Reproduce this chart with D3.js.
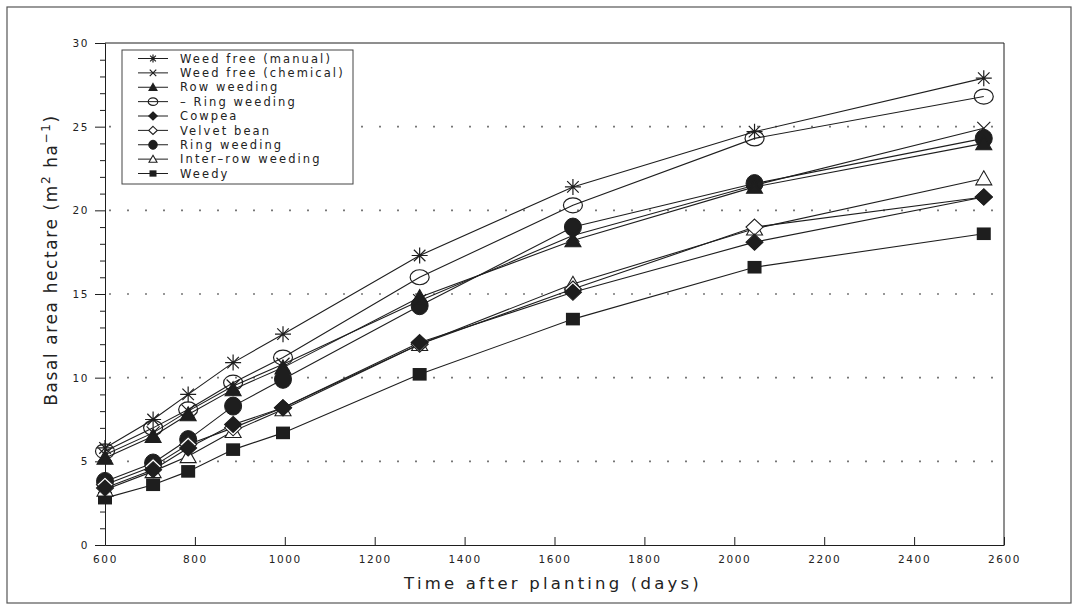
<!DOCTYPE html>
<html>
<head>
<meta charset="utf-8">
<script src="https://cdn.jsdelivr.net/npm/d3@7"></script>
<style>
  html, body { margin: 0; padding: 0; background: #fff; }
  svg { display: block; }
  text { font-family: "DejaVu Sans", sans-serif; fill: #222; }
</style>
</head>
<body>
<svg id="chart" width="1077" height="608"></svg>
<script>
// Sampling dates (days after planting)
const days = [600, 707, 785, 885, 996, 1300, 1641, 2045, 2555];

// Basal area per hectare (m2 ha-1) for each treatment
const weedFreeManual   = [5.8, 7.5, 9.0, 10.9, 12.6, 17.3, 21.4, 24.7, 27.9];
const weedFreeChemical = [5.4, 6.7, 8.0, 9.5, 10.8, 14.6, 18.5, 21.5, 24.9];
const rowWeeding       = [5.2, 6.5, 7.8, 9.3, 10.6, 14.8, 18.2, 21.4, 24.0];
const ringWeedingOpen  = [5.6, 7.0, 8.1, 9.7, 11.2, 16.0, 20.3, 24.3, 26.8];
const cowpea           = [3.4, 4.5, 5.8, 7.2, 8.2, 12.1, 15.1, 18.1, 20.8];
const velvetBean       = [3.6, 4.7, 6.0, 7.0, 8.2, 12.0, 15.3, 19.0, 20.8];
const ringWeeding      = [3.8, 4.9, 6.3, 8.3, 9.9, 14.3, 19.0, 21.6, 24.3];
const interRowWeeding  = [3.3, 4.4, 5.3, 6.8, 8.1, 12.0, 15.6, 18.9, 21.9];
const weedy            = [2.8, 3.6, 4.4, 5.7, 6.7, 10.2, 13.5, 16.6, 18.6];

const xTicks = [600, 800, 1000, 1200, 1400, 1600, 1800, 2000, 2200, 2400, 2600];
const yTicks = [0, 5, 10, 15, 20, 25, 30];
const gridValues = [5, 10, 15, 20, 25];

const series = [
  { name: "Weed free (manual)",   values: weedFreeManual,   marker: "star" },
  { name: "Weed free (chemical)", values: weedFreeChemical, marker: "times" },
  { name: "Row weeding",          values: rowWeeding,       marker: "triangleFilled" },
  { name: "\u2013 Ring weeding",  values: ringWeedingOpen,  marker: "circleOpen" },
  { name: "Cowpea",               values: cowpea,           marker: "diamondFilled" },
  { name: "Velvet bean",          values: velvetBean,       marker: "diamondOpen" },
  { name: "Ring weeding",         values: ringWeeding,      marker: "circleFilled" },
  { name: "Inter\u2013row weeding", values: interRowWeeding, marker: "triangleOpen" },
  { name: "Weedy",                values: weedy,           marker: "squareFilled" }
];

const svg = d3.select("#chart");
const ink = "#1e1e1e";

const plotLeft = 105, plotRight = 1004, plotTop = 43, plotBottom = 545;
const x = d3.scaleLinear().domain([600, 2600]).range([plotLeft, plotRight]);
const y = d3.scaleLinear().domain([0, 30]).range([plotBottom, plotTop]);

// Outer figure frame
svg.append("rect")
  .attr("x", 7).attr("y", 7).attr("width", 1064).attr("height", 596)
  .attr("fill", "none").attr("stroke", "#555").attr("stroke-width", 1.2);

// Plot frame (top and right edges)
svg.append("path")
  .attr("d", `M${plotLeft},${plotTop}H${plotRight}V${plotBottom}`)
  .attr("fill", "none").attr("stroke", ink).attr("stroke-width", 1);

// Dotted reference lines
svg.append("g").selectAll("line").data(gridValues).join("line")
  .attr("x1", plotLeft + 4).attr("x2", plotRight - 2)
  .attr("y1", d => y(d)).attr("y2", d => y(d))
  .attr("stroke", "#777").attr("stroke-width", 1.6)
  .attr("stroke-dasharray", "2,16");

// Y axis: major ticks with labels, minor ticks every unit
svg.append("g").attr("transform", `translate(${plotLeft},0)`)
  .call(d3.axisLeft(y).tickValues(yTicks).tickSize(10).tickPadding(6).tickFormat(d3.format("d")));
svg.append("g").attr("transform", `translate(${plotLeft},0)`)
  .call(d3.axisLeft(y).tickValues(d3.range(0, 31).filter(v => v % 5 !== 0)).tickSize(5).tickFormat(""))
  .call(g => g.select(".domain").remove());

// X axis: ticks point into the plot, labels below
svg.append("g").attr("transform", `translate(0,${plotBottom})`)
  .call(d3.axisBottom(x).tickValues(xTicks).tickSizeInner(-8).tickSizeOuter(0).tickPadding(11).tickFormat(d3.format("d")));

svg.selectAll(".domain, .tick line").attr("stroke", ink).attr("stroke-width", 1);
svg.selectAll(".tick text").style("font-size", "10.5px").style("letter-spacing", "1.6px").attr("fill", "#222");

// Axis titles
svg.append("text")
  .attr("x", 553).attr("y", 589)
  .attr("text-anchor", "middle")
  .style("font-size", "16.5px").style("letter-spacing", "3.2px")
  .text("Time after planting (days)");

const yTitle = svg.append("text")
  .attr("transform", "translate(57,260) rotate(-90)")
  .attr("text-anchor", "middle")
  .style("font-size", "17px").style("letter-spacing", "1.6px");
yTitle.append("tspan").text("Basal area hectare (m");
yTitle.append("tspan").attr("dy", "-7").style("font-size", "12px").text("2");
yTitle.append("tspan").attr("dy", "7").text(" ha");
yTitle.append("tspan").attr("dy", "-7").style("font-size", "12px").text("\u22121");
yTitle.append("tspan").attr("dy", "7").text(")");

// Marker drawing; s scales the marker (1 in the plot, smaller in the legend)
function drawMarker(g, type, s) {
  switch (type) {
    case "star": {
      const a = 8 * s, b = a * 0.72;
      g.append("path")
        .attr("d", `M${-a},0H${a}M0,${-a}V${a}M${-b},${-b}L${b},${b}M${-b},${b}L${b},${-b}`)
        .attr("stroke", ink).attr("stroke-width", 1.2).attr("fill", "none");
      break;
    }
    case "times": {
      const b = 6.5 * s;
      g.append("path")
        .attr("d", `M${-b},${-b}L${b},${b}M${-b},${b}L${b},${-b}`)
        .attr("stroke", ink).attr("stroke-width", 1.2).attr("fill", "none");
      break;
    }
    case "triangleFilled":
    case "triangleOpen": {
      const h = 14 * s, w = 16 * s;
      g.append("path")
        .attr("d", `M0,${-h * 0.55}L${w / 2},${h * 0.45}L${-w / 2},${h * 0.45}Z`)
        .attr("fill", type === "triangleFilled" ? ink : "#fff")
        .attr("stroke", ink).attr("stroke-width", 1.1);
      break;
    }
    case "circleOpen":
      g.append("ellipse").attr("rx", 9.5 * s).attr("ry", 7.5 * s)
        .attr("fill", "none").attr("stroke", ink).attr("stroke-width", 1.2);
      break;
    case "circleFilled":
      g.append("ellipse").attr("rx", 8.5 * s).attr("ry", 9 * s)
        .attr("fill", ink).attr("stroke", ink);
      break;
    case "diamondFilled":
    case "diamondOpen": {
      const a = 8.5 * s, v = 8 * s;
      g.append("path")
        .attr("d", `M0,${-v}L${a},0L0,${v}L${-a},0Z`)
        .attr("fill", type === "diamondFilled" ? ink : "#fff")
        .attr("stroke", ink).attr("stroke-width", 1.1);
      break;
    }
    case "squareFilled": {
      const a = 7 * s;
      g.append("rect").attr("x", -a).attr("y", -a * 0.9).attr("width", 2 * a).attr("height", 1.8 * a)
        .attr("fill", ink);
      break;
    }
  }
}

// Lines
const line = d3.line().x((d, i) => x(days[i])).y(d => y(d));
const plot = svg.append("g");
series.forEach(sr => {
  plot.append("path")
    .datum(sr.values)
    .attr("d", line)
    .attr("fill", "none").attr("stroke", ink).attr("stroke-width", 1.1);
});

// Markers (drawn in reverse so the upper entries sit on top)
series.slice().reverse().forEach(sr => {
  sr.values.forEach((v, i) => {
    const g = plot.append("g").attr("transform", `translate(${x(days[i])},${y(v)})`);
    drawMarker(g, sr.marker, 1);
  });
});

// Legend
const legend = svg.append("g");
legend.append("rect")
  .attr("x", 122).attr("y", 50).attr("width", 231).attr("height", 134)
  .attr("fill", "#fff").attr("stroke", "#444").attr("stroke-width", 1);
const rowY = d3.scaleLinear().domain([0, 8]).range([58.5, 173.5]);
series.forEach((sr, i) => {
  const cy = rowY(i);
  legend.append("line")
    .attr("x1", 138).attr("x2", 168).attr("y1", cy).attr("y2", cy)
    .attr("stroke", ink).attr("stroke-width", 1);
  const g = legend.append("g").attr("transform", `translate(153,${cy})`);
  drawMarker(g, sr.marker, 0.5);
  legend.append("text")
    .attr("x", 180).attr("y", cy).attr("dy", "0.36em")
    .style("font-size", "11.5px").style("letter-spacing", "2.1px")
    .text(sr.name);
});
</script>
</body>
</html>
